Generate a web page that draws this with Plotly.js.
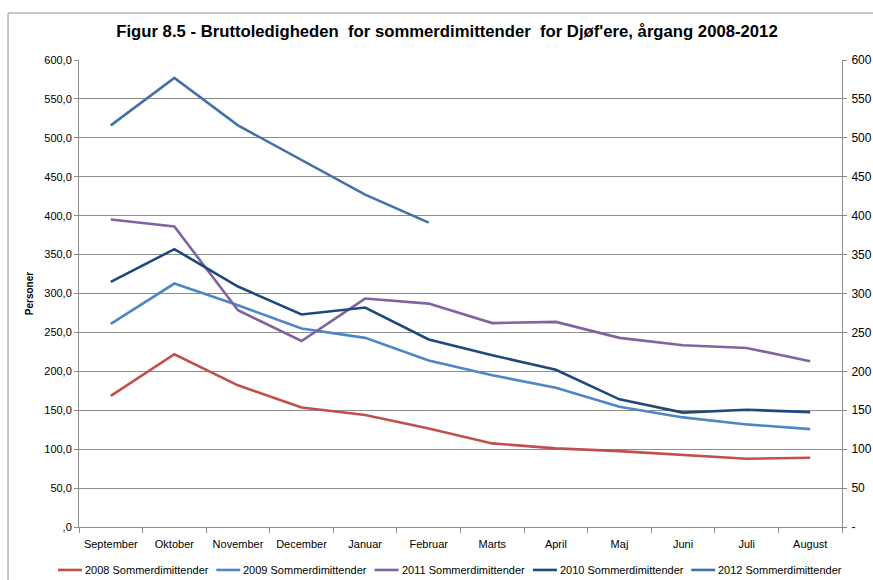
<!DOCTYPE html>
<html>
<head>
<meta charset="utf-8">
<script src="https://cdn.plot.ly/plotly-3.0.1.min.js"></script>
<style>html,body{margin:0;padding:0;background:#fff;}#chart{width:873px;height:580px;}</style>
</head>
<body>
<div id="chart"></div>
<script>
const months = ["September","Oktober","November","December","Januar","Februar","Marts","April","Maj","Juni","Juli","August"];
const s2008 = [168.5, 222, 182, 153.6, 144, 126.6, 107.4, 101, 97.5, 92.4, 87.7, 89];
const s2009 = [261, 312.8, 285, 255, 243, 214, 195, 179, 154.4, 140.8, 131.8, 125.8];
const s2011 = [395, 386, 278.5, 239, 293.5, 287, 262, 263.5, 243, 233.6, 230, 213];
const s2010 = [315, 357, 309, 273, 282, 241, 220.7, 202, 164, 147, 150.6, 147.6];
const s2012 = [516, 577, 516, 471, 427, 391];
const seriesNames = ["2008 Sommerdimittender","2009 Sommerdimittender","2011 Sommerdimittender","2010 Sommerdimittender","2012 Sommerdimittender"];
const leftTickVals = [0,50,100,150,200,250,300,350,400,450,500,550,600];
const leftTickText = [",0","50,0","100,0","150,0","200,0","250,0","300,0","350,0","400,0","450,0","500,0","550,0","600,0"];
const rightTickText = ["-","50","100","150","200","250","300","350","400","450","500","550","600"];
const titleText = "Figur 8.5 - Bruttoledigheden  for sommerdimittender  for Djøf'ere, årgang 2008-2012";

const colors = ["#C0504D","#4F86C6","#8064A2","#1F497D","#4471A8"];
const data = [s2008, s2009, s2011, s2010, s2012].map((ys, i) => ({
  type: "scatter", mode: "lines", name: seriesNames[i],
  x: months.slice(0, ys.length), y: ys, showlegend: false,
  line: {color: colors[i], width: 2.6}
}));
data.push({type:"scatter", mode:"lines", x:[months[0]], y:[0], yaxis:"y2", showlegend:false, hoverinfo:"skip", line:{color:"rgba(0,0,0,0)"}});

const font = "Liberation Sans, Arial, sans-serif";
const gridc = "#8C8C8C";

// legend drawn as paper-positioned shapes + annotations (plot area: x 79..842 px, y 59.5..527 px)
const plotL = 79, plotW = 763, plotB = 527, plotH = 467.5;
const px = v => (v - plotL) / plotW;
const py = v => (plotB - v) / plotH;
const legendShapes = [], legendAnn = [];
seriesNames.forEach((name, i) => {
  const x0 = 58 + i * 158.3;
  legendShapes.push({type: "line", xref: "paper", yref: "paper", x0: px(x0), x1: px(x0 + 24), y0: py(570), y1: py(570), line: {color: colors[i], width: 2.6}});
  legendAnn.push({text: name, xref: "paper", yref: "paper", x: px(x0 + 25), y: py(570), xanchor: "left", yanchor: "middle", showarrow: false, font: {size: 11, family: font, color: "#000"}});
});

const layout = {
  width: 873, height: 580,
  margin: {l: 79, r: 31, t: 59.5, b: 53},
  paper_bgcolor: "#fff", plot_bgcolor: "#fff",
  font: {family: font, size: 11, color: "#000"},
  title: {text: "<b>" + titleText + "</b>", font: {family: font, size: 16.7, color: "#000"}, x: 0.512, xanchor: "center", y: 0.947, yanchor: "middle"},
  showlegend: false,
  xaxis: {type: "category", categoryarray: months, categoryorder: "array", range: [-0.5, 11.5],
    showline: true, linecolor: gridc, linewidth: 1, ticks: "outside", tickson: "boundaries", ticklen: 5, tickcolor: gridc,
    showgrid: false, zeroline: false, tickfont: {size: 11}, ticklabelstandoff: 7, fixedrange: true},
  yaxis: {range: [0, 600], tickvals: leftTickVals, ticktext: leftTickText, showline: true, linecolor: gridc, linewidth: 1,
    ticks: "outside", ticklen: 4, tickcolor: gridc, showgrid: true, gridcolor: gridc, gridwidth: 1, zeroline: false,
    tickfont: {size: 11}, title: {text: "<b>Personer</b>", font: {size: 10}, standoff: 8}},
  yaxis2: {overlaying: "y", side: "right", range: [0, 600], tickvals: leftTickVals, ticktext: rightTickText, showline: true,
    linecolor: gridc, linewidth: 1, ticks: "outside", ticklen: 4, tickcolor: gridc, showgrid: false, zeroline: false,
    tickfont: {size: 12}, ticklabelstandoff: 2},
  annotations: legendAnn,
  shapes: [
    {type: "line", xref: "paper", yref: "paper", x0: -0.093, x1: -0.093, y0: -0.2, y1: 1.1005, line: {color: "#B4B4B4", width: 1.5}},
    {type: "line", xref: "paper", yref: "paper", x0: -0.093, x1: 1.1, y0: 1.1005, y1: 1.1005, line: {color: "#B4B4B4", width: 1.5}},
    {type: "line", xref: "paper", yref: "paper", x0: -0.025, x1: -0.025, y0: 1.128, y1: 1.2, line: {color: "#B4B4B4", width: 1.5}}
  ].concat(legendShapes)
};
Plotly.newPlot("chart", data, layout, {displayModeBar: false, staticPlot: true});
</script>
</body>
</html>
